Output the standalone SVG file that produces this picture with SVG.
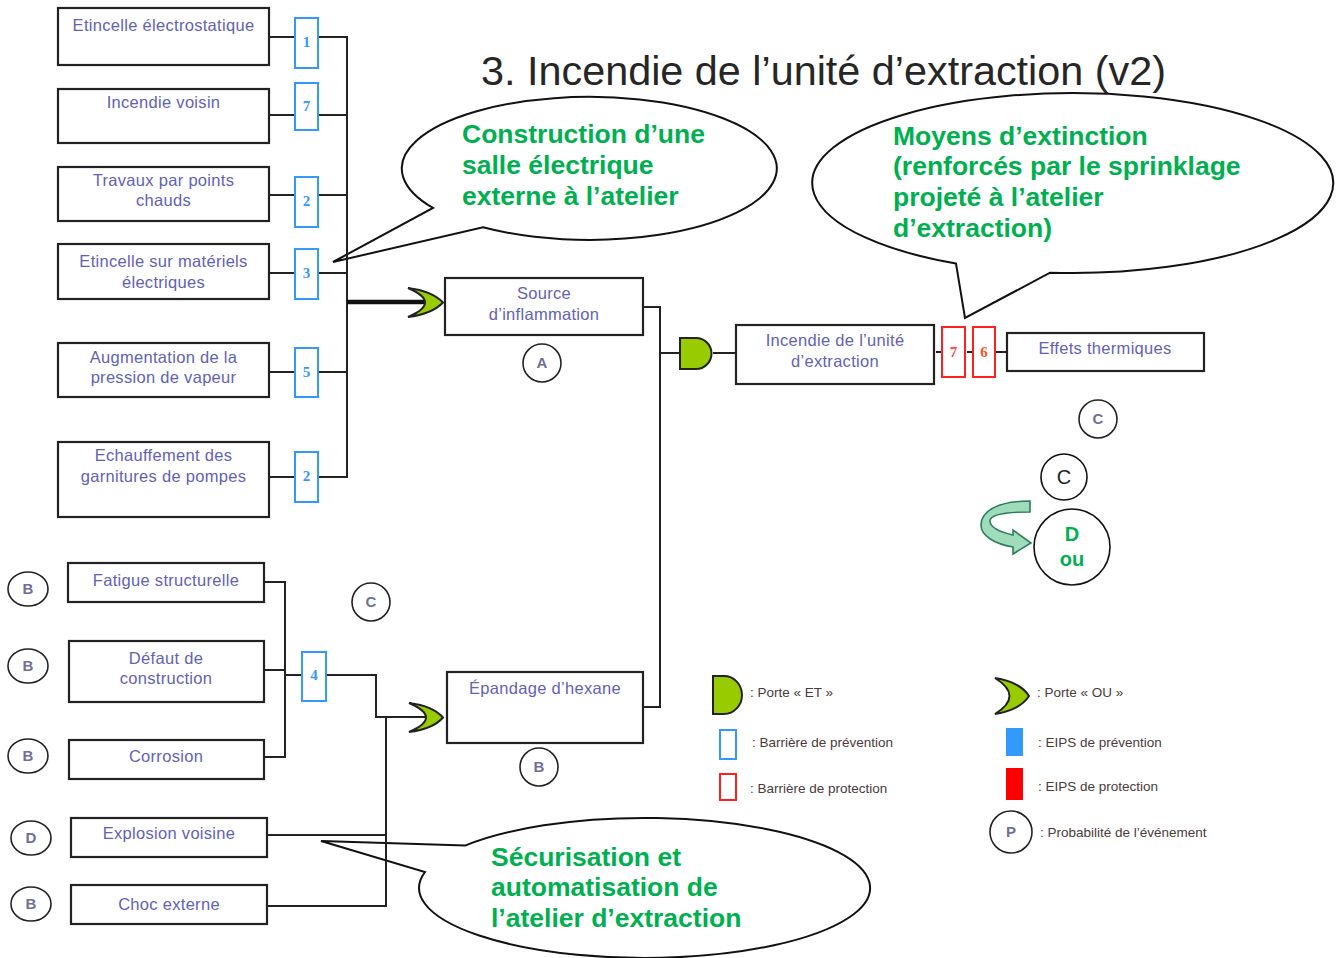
<svg xmlns="http://www.w3.org/2000/svg" width="1341" height="958" viewBox="0 0 1341 958">
<style>
.box{fill:#fff;stroke:#222;stroke-width:2.2}
.lbl{font-family:"Liberation Sans",Arial,sans-serif;font-size:16.5px;fill:#6262b4;text-anchor:middle;letter-spacing:0.3px}
.bp{fill:#fff;stroke:#3399ff;stroke-width:2}
.br{fill:#fff;stroke:#ff2020;stroke-width:2}
.num{font-family:"Liberation Serif","Times New Roman",serif;font-size:15px;font-weight:bold;text-anchor:middle}
.nb{fill:#3399ff}
.ln{fill:none;stroke:#222;stroke-width:2}
.gate{fill:#99cc00;stroke:#222;stroke-width:2}
.prob{fill:#fff;stroke:#222;stroke-width:1.6}
.pl{font-family:"Liberation Sans",Arial,sans-serif;font-size:15px;font-weight:bold;fill:#6f6f9c;text-anchor:middle}
.call{fill:#fff;stroke:#111;stroke-width:2}
.ct{font-family:"Liberation Sans",Arial,sans-serif;font-size:26.5px;font-weight:bold;fill:#00b050}
.leg{font-family:"Liberation Sans",Arial,sans-serif;font-size:13.5px;fill:#4a3a3a}
</style>

<text x="481" y="85" font-family="'Liberation Sans',Arial,sans-serif" font-size="41" fill="#262626" textLength="685" lengthAdjust="spacingAndGlyphs">3. Incendie  de l’unité  d’extraction  (v2)</text>

<g id="callout-salle">
<path class="call" d="M 483 227.3 A 187.5 71.5 0 1 0 433 207.9 L 333 262 Z"/>
<text class="ct" x="462" y="143">Construction d’une</text>
<text class="ct" x="462" y="174">salle électrique</text>
<text class="ct" x="462" y="205">externe à l’atelier</text>
</g>
<g id="callout-extinction">
<path class="call" d="M 956 263.5 A 260.5 90 0 1 1 1050 272.7 L 965 318 Z"/>
<text class="ct" x="893" y="145">Moyens d’extinction</text>
<text class="ct" x="893" y="175">(renforcés par le sprinklage</text>
<text class="ct" x="893" y="206">projeté à l’atelier</text>
<text class="ct" x="893" y="237">d’extraction)</text>
</g>
<g id="callout-securisation">
<path class="call" d="M 465 845.6 A 225.5 70 0 1 1 425 872 L 321 841 Z"/>
<text class="ct" x="491" y="866">Sécurisation et</text>
<text class="ct" x="491" y="896">automatisation de</text>
<text class="ct" x="491" y="927">l’atelier d’extraction</text>
</g>

<g id="connectors">
<path class="ln" d="M269 37H295M318 37H347M269 115H295M318 115H347M269 195H295M318 195H347M269 273H295M318 273H347M269 372H295M318 372H347M269 477H295M318 477H347M347 36V478"/>
<path fill="none" stroke="#111" stroke-width="4.5" d="M347 302H426"/>
<path class="ln" d="M643 307H660V707H643M660 353H680M713 353H736M936 352H942M967 352H973M996 352H1007"/>
<path class="ln" d="M264 582H285M264 670H285M264 757H285M285 581V758M285 675H302M326 675H376V717H426M386 717V906H267M267 835H386"/>
</g>

<g id="n-etincelle-electro"><rect class="box" x="58" y="8" width="211" height="57"/><text class="lbl" x="163.5" y="31">Etincelle électrostatique</text></g>
<g id="n-incendie-voisin"><rect class="box" x="58" y="89" width="211" height="54"/><text class="lbl" x="163.5" y="108">Incendie voisin</text></g>
<g id="n-travaux"><rect class="box" x="58" y="167" width="211" height="54"/><text class="lbl" x="163.5" y="186">Travaux par points</text><text class="lbl" x="163.5" y="206">chauds</text></g>
<g id="n-etincelle-elec"><rect class="box" x="58" y="244" width="211" height="55"/><text class="lbl" x="163.5" y="267">Etincelle sur matériels</text><text class="lbl" x="163.5" y="288">électriques</text></g>
<g id="n-pression"><rect class="box" x="58" y="343" width="211" height="54"/><text class="lbl" x="163.5" y="363">Augmentation de la</text><text class="lbl" x="163.5" y="383">pression de vapeur</text></g>
<g id="n-garnitures"><rect class="box" x="58" y="442" width="211" height="75"/><text class="lbl" x="163.5" y="461">Echauffement des</text><text class="lbl" x="163.5" y="482">garnitures de pompes</text></g>

<g id="b-1"><rect class="bp" x="295" y="18" width="23" height="50"/><text class="num nb" x="306.5" y="47">1</text></g>
<g id="b-7"><rect class="bp" x="295" y="83" width="23" height="47"/><text class="num nb" x="306.5" y="111">7</text></g>
<g id="b-2a"><rect class="bp" x="295" y="177" width="23" height="50"/><text class="num nb" x="306.5" y="206">2</text></g>
<g id="b-3"><rect class="bp" x="295" y="249" width="23" height="50"/><text class="num nb" x="306.5" y="278">3</text></g>
<g id="b-5"><rect class="bp" x="295" y="348" width="23" height="49"/><text class="num nb" x="306.5" y="377">5</text></g>
<g id="b-2b"><rect class="bp" x="295" y="452" width="23" height="50"/><text class="num nb" x="306.5" y="481">2</text></g>

<g id="or-source"><path class="gate" d="M408 288 Q432 291 443 302.5 Q432 314 408 317 Q442 302.5 408 288 Z"/></g>
<g id="n-source"><rect class="box" x="445" y="278" width="198" height="57"/><text class="lbl" x="544" y="299">Source</text><text class="lbl" x="544" y="320">d’inflammation</text></g>
<g id="p-a"><circle class="prob" cx="542" cy="363" r="19"/><text class="pl" x="542" y="368">A</text></g>

<g id="and-incendie"><path class="gate" d="M680 338H696A15.5 15.5 0 0 1 696 369H680Z"/></g>
<g id="n-incendie"><rect class="box" x="736" y="325" width="198" height="59"/><text class="lbl" x="835" y="346">Incendie de l’unité</text><text class="lbl" x="835" y="367">d’extraction</text></g>
<g id="b-r7"><rect class="br" x="942" y="327" width="23" height="50"/><text class="num" fill="#ff4444" x="953.5" y="357">7</text></g>
<g id="b-r6"><rect class="br" x="973" y="327" width="22" height="50"/><text class="num" fill="#ff5522" x="984" y="357">6</text></g>
<g id="n-effets"><rect class="box" x="1007" y="333" width="197" height="38"/><text class="lbl" x="1105" y="354">Effets thermiques</text></g>
<g id="p-c1"><circle class="prob" cx="1098" cy="419" r="19"/><text class="pl" x="1098" y="424">C</text></g>

<g id="note-c-d">
<circle fill="#fff" stroke="#111" stroke-width="1.6" cx="1064" cy="477" r="23"/>
<text x="1064" y="484" font-family="'Liberation Sans',Arial,sans-serif" font-size="20" fill="#222" text-anchor="middle">C</text>
<circle fill="#fff" stroke="#111" stroke-width="1.6" cx="1072" cy="547" r="38"/>
<text x="1072" y="541" font-family="'Liberation Sans',Arial,sans-serif" font-size="20" font-weight="bold" fill="#00b050" text-anchor="middle">D</text>
<text x="1072" y="566" font-family="'Liberation Sans',Arial,sans-serif" font-size="20" font-weight="bold" fill="#00b050" text-anchor="middle">ou</text>
<path fill="#9fdcbc" stroke="#2f7d58" stroke-width="1.6" d="M1030 501 L1030 512 C1005 512 990 515 990 521 C990 527 1000 532 1013 535 L1013 530 L1031 543 L1013 554 L1013 547 C995 544 981 536 981 525 C981 510 1000 501 1030 501 Z"/>
</g>

<g id="p-c2"><circle class="prob" cx="371" cy="602" r="19"/><text class="pl" x="371" y="607">C</text></g>

<g id="p-b1"><ellipse class="prob" cx="28" cy="589" rx="20" ry="17"/><text class="pl" x="28" y="594">B</text></g>
<g id="n-fatigue"><rect class="box" x="68" y="563" width="196" height="39"/><text class="lbl" x="166" y="586">Fatigue structurelle</text></g>
<g id="p-b2"><ellipse class="prob" cx="28" cy="666" rx="20" ry="17"/><text class="pl" x="28" y="671">B</text></g>
<g id="n-defaut"><rect class="box" x="69" y="641" width="195" height="61"/><text class="lbl" x="166" y="664">Défaut de</text><text class="lbl" x="166" y="684">construction</text></g>
<g id="p-b3"><ellipse class="prob" cx="28" cy="756" rx="20" ry="17"/><text class="pl" x="28" y="761">B</text></g>
<g id="n-corrosion"><rect class="box" x="69" y="740" width="195" height="39"/><text class="lbl" x="166" y="762">Corrosion</text></g>
<g id="p-d"><ellipse class="prob" cx="31" cy="838" rx="20" ry="17"/><text class="pl" x="31" y="843">D</text></g>
<g id="n-explosion"><rect class="box" x="71" y="818" width="196" height="39"/><text class="lbl" x="169" y="839">Explosion voisine</text></g>
<g id="p-b4"><ellipse class="prob" cx="31" cy="904" rx="20" ry="17"/><text class="pl" x="31" y="909">B</text></g>
<g id="n-choc"><rect class="box" x="71" y="885" width="196" height="39"/><text class="lbl" x="169" y="910">Choc externe</text></g>

<g id="b-4"><rect class="bp" x="302" y="652" width="24" height="49"/><text class="num nb" x="314" y="680">4</text></g>
<g id="or-epandage"><path class="gate" d="M409 703 Q433 706 443 717.5 Q433 729 409 732 Q443 717.5 409 703 Z"/></g>
<g id="n-epandage"><rect class="box" x="447" y="672" width="196" height="71"/><text class="lbl" x="545" y="694">Épandage d’hexane</text></g>
<g id="p-b5"><circle class="prob" cx="539" cy="767" r="19"/><text class="pl" x="539" y="772">B</text></g>

<g id="legend">
<path class="gate" d="M713 676H724A18 19 0 0 1 724 714H713Z"/>
<text class="leg" x="750" y="697">: Porte « ET »</text>
<path class="gate" d="M995 678 Q1020 682 1029 696 Q1020 710 995 714 Q1024 696 995 678 Z"/>
<text class="leg" x="1037" y="697">: Porte « OU »</text>
<rect class="bp" x="720" y="730" width="16" height="29"/>
<text class="leg" x="752" y="747">: Barrière de prévention</text>
<rect class="br" x="720" y="774" width="16" height="26"/>
<text class="leg" x="750" y="793">: Barrière de protection</text>
<rect fill="#3399ff" x="1006" y="728" width="17" height="28"/>
<text class="leg" x="1038" y="747">: EIPS  de prévention</text>
<rect fill="#ff0000" x="1006" y="768" width="17" height="32"/>
<text class="leg" x="1038" y="791">: EIPS  de protection</text>
<circle class="prob" cx="1011" cy="832" r="21"/>
<text class="pl" x="1011" y="837">P</text>
<text class="leg" x="1040" y="837">: Probabilité  de l’événement</text>
</g>
</svg>
